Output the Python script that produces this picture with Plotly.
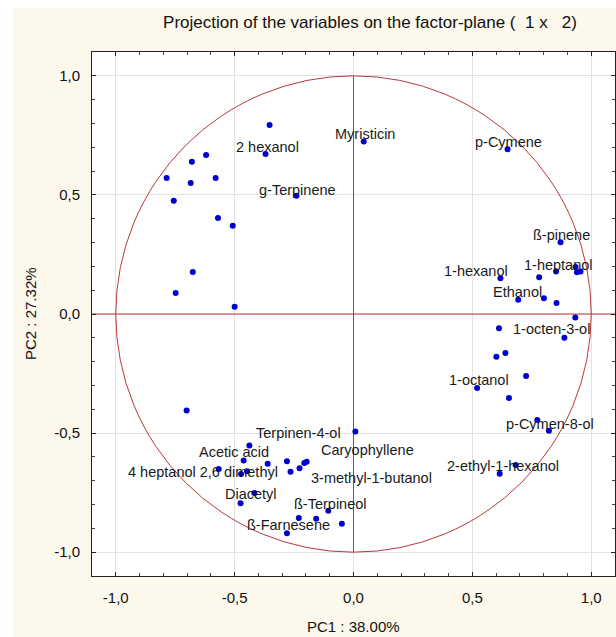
import plotly.graph_objects as go

# ---- data ----
pc1 = [-0.353, -0.370, -0.240, -0.786, -0.680, -0.620, -0.685, -0.580, -0.756, -0.570,
       -0.508, -0.676, -0.748, -0.500, 0.043,
       0.648, 0.871, 0.618, 0.781, 0.852, 0.934, 0.940, 0.955, 0.693, 0.801,
       0.854, 0.933, 0.612, 0.887, 0.639, 0.601, 0.726, 0.520, 0.654, 0.773,
       0.822, 0.682, 0.615,
       -0.702, 0.008, -0.438, -0.462, -0.361, -0.280, -0.207, -0.197, -0.227, -0.265,
       -0.567, -0.448, -0.473, -0.417, -0.475, -0.106, -0.230, -0.157, -0.049, -0.280]
pc2 = [0.794, 0.672, 0.496, 0.571, 0.639, 0.668, 0.550, 0.571, 0.475, 0.403,
       0.370, 0.176, 0.088, 0.030, 0.724,
       0.692, 0.301, 0.150, 0.154, 0.178, 0.197, 0.175, 0.178, 0.060, 0.066,
       0.046, -0.015, -0.060, -0.100, -0.164, -0.179, -0.260, -0.311, -0.353, -0.445,
       -0.490, -0.634, -0.671,
       -0.405, -0.493, -0.552, -0.615, -0.629, -0.618, -0.626, -0.620, -0.648, -0.662,
       -0.651, -0.660, -0.672, -0.752, -0.795, -0.826, -0.856, -0.860, -0.881, -0.920]

label_text = ["2 hexanol", "g-Terpinene", "Myristicin", "p-Cymene", "ß-pinene",
              "1-heptanol", "1-hexanol", "Ethanol", "1-octen-3-ol", "1-octanol",
              "p-Cymen-8-ol", "2-ethyl-1-hexanol", "Terpinen-4-ol", "Acetic acid",
              "Caryophyllene", "4 heptanol 2,6 dimethyl", "3-methyl-1-butanol",
              "Diacetyl", "ß-Terpineol", "ß-Farnesene"]
label_x = [-0.363, -0.237, 0.048, 0.650, 0.874, 0.861, 0.515, 0.689, 0.831, 0.529,
           0.826, 0.629, -0.230, -0.503, 0.058, -0.632, 0.076, -0.433, -0.098, -0.273]
label_y = [0.700, 0.520, 0.755, 0.723, 0.330, 0.207, 0.180, 0.091, -0.063, -0.277,
           -0.462, -0.639, -0.501, -0.581, -0.571, -0.663, -0.690, -0.756, -0.798, -0.887]

tick_vals = [-1.0, -0.5, 0.0, 0.5, 1.0]
tick_text = ["-1,0", "-0,5", "0,0", "0,5", "1,0"]

title_text = "Projection of the variables on the factor-plane (  1 x   2)"
x_title = "PC1 : 38.00%"
y_title = "PC2 : 27.32%"

# ---- figure ----
W, H = 616, 637
L, R, T, B = 92, 1, 52, 61
FONT = "Liberation Sans, Arial, sans-serif"
CREAM = "#fdf8ec"
RED = "#b8393a"

fig = go.Figure()
fig.add_trace(go.Scatter(
    x=pc1, y=pc2, mode="markers",
    marker=dict(color="#0000cc", size=6),
    hoverinfo="x+y", showlegend=False))

# unit circle and cross lines
fig.add_shape(type="circle", xref="x", yref="y", x0=-1, y0=-1, x1=1, y1=1,
              line=dict(color=RED, width=1), layer="between")
fig.add_shape(type="line", xref="x", yref="y", x0=0, y0=-1, x1=0, y1=1,
              line=dict(color=RED, width=1), layer="between")
fig.add_shape(type="line", xref="x", yref="y", x0=-1.1, y0=0, x1=1.1, y1=0,
              line=dict(color=RED, width=1), layer="between")

# white outer border strips (left and top)
pw = W - L - R
ph = H - T - B
fig.add_shape(type="rect", xref="paper", yref="paper",
              x0=(0 - L) / pw, x1=(13 - L) / pw, y0=-B / ph - 0.01, y1=(H - B) / ph + 0.01,
              fillcolor="white", line=dict(width=0), layer="below")
fig.add_shape(type="rect", xref="paper", yref="paper",
              x0=(0 - L) / pw, x1=(W - L) / pw + 0.01, y0=(H - B - 8) / ph, y1=(H - B) / ph + 0.01,
              fillcolor="white", line=dict(width=0), layer="below")

for t, lx, ly in zip(label_text, label_x, label_y):
    fig.add_annotation(x=lx, y=ly, text=t, showarrow=False, xanchor="center", yanchor="middle",
                       font=dict(family=FONT, size=14.5, color="#1a1a1a"))

fig.add_annotation(xref="paper", yref="paper", x=0.5, y=-(626 - (H - B)) / ph,
                   text=x_title, showarrow=False, xanchor="center", yanchor="middle",
                   font=dict(family=FONT, size=15, color="#111"))
fig.add_annotation(xref="paper", yref="paper", x=(30 - L) / pw, y=0.5,
                   text=y_title, showarrow=False, textangle=-90, xanchor="center", yanchor="middle",
                   font=dict(family=FONT, size=15, color="#111"))

axis_common = dict(
    range=[-1.1, 1.1], tickvals=tick_vals, ticktext=tick_text,
    showgrid=True, gridcolor="#e2e2e2", gridwidth=1, zeroline=False,
    showline=True, linecolor="#222", linewidth=1, mirror="ticks",
    ticks="inside", ticklen=4, tickcolor="#222",
    minor=dict(ticks="inside", dtick=0.1, tick0=0, ticklen=3, tickcolor="#444", showgrid=False),
    tickfont=dict(family=FONT, size=15, color="#111"),
    fixedrange=True,
)
fig.update_xaxes(**axis_common, ticklabelstandoff=8)
fig.update_yaxes(**axis_common, ticklabelstandoff=8)

fig.update_layout(
    width=W, height=H,
    margin=dict(l=L, r=R, t=T, b=B),
    paper_bgcolor=CREAM, plot_bgcolor="white",
    title=dict(text=title_text, x=370 / W, xanchor="center", y=1 - 22 / H, yanchor="middle",
               font=dict(family=FONT, size=17, color="#111")),
    showlegend=False,
)

fig.write_html("out.html", config={"displayModeBar": False},
               post_script="document.body.style.margin='0';document.body.style.overflow='hidden';")
